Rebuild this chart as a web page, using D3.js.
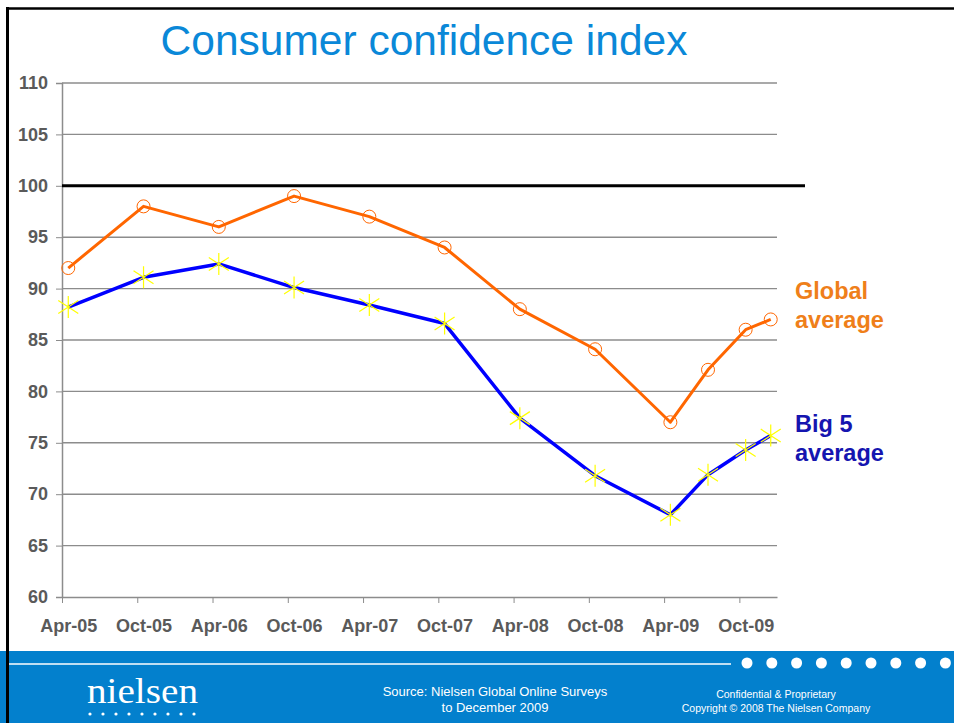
<!DOCTYPE html>
<html>
<head>
<meta charset="utf-8">
<script src="https://cdnjs.cloudflare.com/ajax/libs/d3/7.8.5/d3.min.js"></script>
<style>
  body { margin: 0; background: #fff; }
  svg { display: block; font-family: "Liberation Sans", Arial, sans-serif; }
  .axis path, .axis line { stroke: #8c8c8c; }
  .axis text { fill: #5a5a5a; font-weight: bold; font-size: 18px; }
</style>
</head>
<body>
<svg id="chart" width="954" height="723"></svg>
<script>
// survey months and readings
var surveyDates = ["2005-04", "2005-10", "2006-04", "2006-10", "2007-04", "2007-10",
                   "2008-04", "2008-10", "2009-04", "2009-07", "2009-10", "2009-12"];
var globalAvg = [92, 98, 96, 99, 97, 94, 88, 84.1, 77, 82.1, 86, 87];
var big5Avg = [88.2, 91.1, 92.4, 90.1, 88.4, 86.6, 77.4, 71.8, 68, 71.9, 74.3, 75.7];
var tickLabels = ["Apr-05", "Oct-05", "Apr-06", "Oct-06", "Apr-07",
                  "Oct-07", "Apr-08", "Oct-08", "Apr-09", "Oct-09"];
var yTicks = [60, 65, 70, 75, 80, 85, 90, 95, 100, 105, 110];

(function() {
var svg = d3.select("#chart");
var W = 954, H = 723;
var parseM = d3.timeParse("%Y-%m");
var start = parseM("2005-04"), end = parseM("2010-01");
var nMonths = d3.timeMonth.count(start, end); // 57

var mLeft = 62, mRight = 777, mTop = 83, mBottom = 597;

var x = d3.scaleLinear().domain([0, nMonths]).range([mLeft, mRight]);
var y = d3.scaleLinear().domain([60, 110]).range([mBottom, mTop]);
var monthW = x(1) - x(0);

function mi(s) { return d3.timeMonth.count(start, parseM(s)); }

svg.append("rect").attr("width", W).attr("height", H).attr("fill", "#fff");

// title
svg.append("text")
    .attr("x", 424).attr("y", 55)
    .attr("text-anchor", "middle")
    .attr("fill", "#0a88d8")
    .style("font-size", "42.5px")
    .text("Consumer confidence index");

// gridlines + y labels
var yAxis = d3.axisLeft(y).tickValues(yTicks).tickSizeOuter(0).tickSize(6).tickPadding(8);
var gy = svg.append("g").attr("class", "axis").attr("transform", "translate(" + mLeft + ",0)").call(yAxis);
gy.select(".domain").attr("stroke", "#a0a0a0").attr("stroke-width", 1.5);

svg.append("g").selectAll("line")
    .data(yTicks.filter(function(d) { return d !== 60 && d !== 100; }))
    .enter().append("line")
    .attr("x1", mLeft).attr("x2", mRight)
    .attr("y1", function(d) { return y(d); }).attr("y2", function(d) { return y(d); })
    .attr("stroke", "#8c8c8c").attr("stroke-width", 1.4);

// reference line at 100
svg.append("line")
    .attr("x1", mLeft).attr("x2", 805)
    .attr("y1", y(100)).attr("y2", y(100))
    .attr("stroke", "#000").attr("stroke-width", 3);

// x axis
var xAxis = d3.axisBottom(x)
    .tickValues(d3.range(0, nMonths, 6))
    .tickFormat(function(d, i) { return tickLabels[i]; })
    .tickSize(6).tickSizeOuter(0).tickPadding(16);
var gx = svg.append("g").attr("class", "axis").attr("transform", "translate(0," + mBottom + ")").call(xAxis);
gx.select(".domain").attr("stroke-width", 1.4);
gx.selectAll("text").attr("dx", monthW / 2);

// series
function drawSeries(vals, color, width) {
    var pts = vals.map(function(v, i) { return [x(mi(surveyDates[i]) + 0.5), y(v)]; });
    svg.append("path")
        .attr("d", d3.line()(pts))
        .attr("fill", "none").attr("stroke", color)
        .attr("stroke-width", width).attr("stroke-linejoin", "round");
    return pts;
}

var gPts = drawSeries(globalAvg, "#ff6600", 3);
svg.append("g").selectAll("circle")
    .data(gPts).enter().append("circle")
    .attr("cx", function(d) { return d[0]; }).attr("cy", function(d) { return d[1]; })
    .attr("r", 6.5).attr("fill", "none").attr("stroke", "#ff6600").attr("stroke-width", 1);

var bPts = drawSeries(big5Avg, "#0000ff", 3.5);
svg.append("g").selectAll("path")
    .data(bPts).enter().append("path")
    .attr("d", function(d) {
        var cx = d[0], cy = d[1];
        return "M" + cx + "," + (cy - 11) + "L" + cx + "," + (cy + 11) +
            "M" + (cx - 10) + "," + (cy - 6.5) + "L" + (cx + 10) + "," + (cy + 6.5) +
            "M" + (cx - 10) + "," + (cy + 6.5) + "L" + (cx + 10) + "," + (cy - 6.5);
    })
    .attr("stroke", "#ffff00").attr("stroke-width", 1.2).attr("fill", "none");

// series labels
function label(lines, yy, color) {
    var t = svg.append("text").attr("fill", color)
        .style("font-size", "23.5px").style("font-weight", "bold");
    lines.forEach(function(s, i) {
        t.append("tspan").attr("x", 795).attr("y", yy + i * 29).text(s);
    });
}
label(["Global", "average"], 299, "#ef7f1a");
label(["Big 5", "average"], 432, "#1515b0");

// footer
svg.append("rect").attr("x", 0).attr("y", 651).attr("width", W).attr("height", H - 651).attr("fill", "#0380cd");
svg.append("line").attr("x1", 8).attr("x2", 731).attr("y1", 664).attr("y2", 664)
    .attr("stroke", "#fff").attr("stroke-width", 1.3);
svg.append("g").selectAll("circle")
    .data(d3.range(9)).enter().append("circle")
    .attr("cx", function(i) { return 747 + i * 24.8; }).attr("cy", 663)
    .attr("r", 5.5).attr("fill", "#fff");

svg.append("text")
    .attr("x", 87).attr("y", 703)
    .attr("textLength", 111).attr("lengthAdjust", "spacingAndGlyphs")
    .attr("fill", "#fff")
    .style("font-family", "'Liberation Serif', 'Times New Roman', serif")
    .style("font-size", "35px")
    .text("nielsen");
svg.append("g").selectAll("circle")
    .data(d3.range(9)).enter().append("circle")
    .attr("cx", function(i) { return 90 + i * 13; }).attr("cy", 714)
    .attr("r", 1.6).attr("fill", "#fff");

var src = svg.append("text").attr("fill", "#fff").attr("text-anchor", "middle").style("font-size", "13px");
src.append("tspan").attr("x", 495).attr("y", 696).text("Source: Nielsen Global Online Surveys");
src.append("tspan").attr("x", 495).attr("y", 712).text("to December 2009");

var conf = svg.append("text").attr("fill", "#fff").attr("text-anchor", "middle").style("font-size", "10.5px");
conf.append("tspan").attr("x", 776).attr("y", 698).text("Confidential & Proprietary");
conf.append("tspan").attr("x", 776).attr("y", 712).text("Copyright \u00a9 2008 The Nielsen Company");

// frame
svg.append("line").attr("x1", 7.5).attr("x2", 7.5).attr("y1", 7).attr("y2", H)
    .attr("stroke", "#000").attr("stroke-width", 3);
svg.append("line").attr("x1", 6).attr("x2", W).attr("y1", 8.5).attr("y2", 8.5)
    .attr("stroke", "#000").attr("stroke-width", 2.5);
})();
</script>
</body>
</html>
